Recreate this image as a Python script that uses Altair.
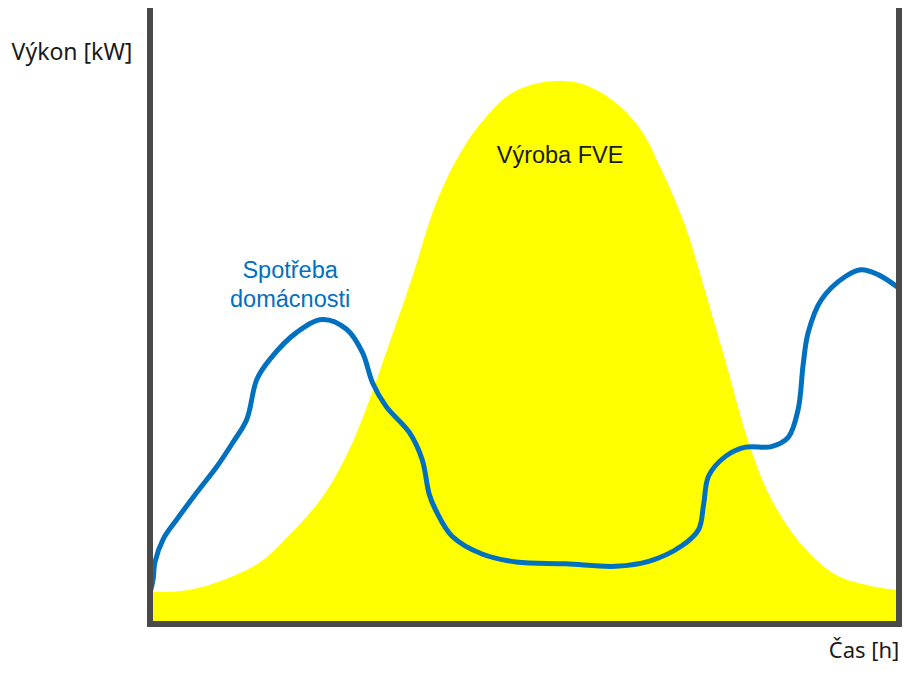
import altair as alt
import pandas as pd

# Production of PV plant (Výroba FVE): hour, kW
pv_t = [0, 1.06, 2.15, 3.53, 4.49, 5.54, 6.31, 6.73, 7.15, 7.60, 8.41, 9.17, 10.00,
        10.77, 11.60, 12.69, 13.74, 14.80, 15.66, 16.39, 17.16, 17.80, 18.44, 19.18, 19.91,
        21.00, 22.05, 23.11, 24.0]
pv_v = [0.52, 0.54, 0.68, 1.01, 1.46, 2.08, 2.76, 3.25, 3.82, 4.47, 5.66, 6.86, 7.72,
        8.26, 8.65, 8.83, 8.81, 8.54, 8.10, 7.40, 6.47, 5.40, 4.28, 2.96, 2.03,
        1.22, 0.78, 0.62, 0.55]

# Household consumption (Spotřeba domácnosti): hour, kW
hh_t = [0, 0.10, 0.16, 0.42, 0.87, 1.51, 2.15, 2.66, 3.10, 3.42, 3.84, 4.70, 5.53, 6.30,
        6.81, 7.13, 7.57, 8.31, 8.72, 8.95, 9.17, 9.68, 10.64, 11.73, 13.33, 14.92, 15.98,
        17.03, 17.58, 17.74, 17.90, 18.44, 19.08, 19.91, 20.45, 20.77, 20.93, 21.09, 21.51,
        22.28, 22.79, 23.33, 24.0]
hh_v = [0.50, 0.73, 1.01, 1.38, 1.71, 2.15, 2.57, 2.96, 3.33, 3.98, 4.31, 4.75, 4.96, 4.80,
        4.42, 3.93, 3.54, 3.12, 2.68, 2.11, 1.84, 1.43, 1.14, 1.01, 0.98, 0.94, 1.02,
        1.27, 1.54, 1.95, 2.41, 2.73, 2.88, 2.89, 3.04, 3.50, 4.23, 4.75, 5.28,
        5.66, 5.77, 5.69, 5.47]

X_MAX = 24
Y_MAX = 10

pv = pd.DataFrame({"t": pv_t, "v": pv_v})
hh = pd.DataFrame({"t": hh_t, "v": hh_v})

xs = alt.Scale(domain=[0, X_MAX], nice=False, zero=False)
ys = alt.Scale(domain=[0, Y_MAX], nice=False, zero=False)

area = alt.Chart(pv).mark_area(color="#FFFF00", interpolate="catmull-rom").encode(
    x=alt.X("t:Q", scale=xs, axis=None),
    y=alt.Y("v:Q", scale=ys, axis=None),
)

line = alt.Chart(hh).mark_line(color="#0070C0", strokeWidth=5, interpolate="catmull-rom").encode(
    x=alt.X("t:Q", scale=xs, axis=None),
    y=alt.Y("v:Q", scale=ys, axis=None),
)

# frame (axes lines)
frame = pd.DataFrame({
    "x": [0, 0, X_MAX],
    "x2": [0, X_MAX, X_MAX],
    "y": [0, 0, 0],
    "y2": [Y_MAX, 0, Y_MAX],
})
rules = alt.Chart(frame).mark_rule(color="#4a4a4a", strokeWidth=6, strokeCap="square").encode(
    x=alt.X("x:Q", scale=xs, axis=None),
    x2="x2:Q",
    y=alt.Y("y:Q", scale=ys, axis=None),
    y2="y2:Q",
)

ax_labels = pd.DataFrame({
    "t": [-2.50, 22.88],
    "v": [9.19, -0.55],
    "label": ["Výkon [kW]", "Čas [h]"],
    "size": [23, 22],
})
axis_text = alt.Chart(ax_labels).mark_text(
    font="Noto Sans", color="#1a1a1a", align="center", baseline="alphabetic"
).encode(
    x=alt.X("t:Q", scale=xs, axis=None),
    y=alt.Y("v:Q", scale=ys, axis=None),
    text="label:N",
    size=alt.Size("size:Q", scale=None, legend=None),
)

pv_label = pd.DataFrame({"t": [13.14], "v": [7.51], "label": ["Výroba FVE"]})
pv_text = alt.Chart(pv_label).mark_text(
    font="Liberation Sans", fontSize=23.5, color="#1a1a1a", align="center", baseline="alphabetic"
).encode(
    x=alt.X("t:Q", scale=xs, axis=None),
    y=alt.Y("v:Q", scale=ys, axis=None),
    text="label:N",
)

hh_label = pd.DataFrame({"t": [4.49, 4.49], "v": [5.64, 5.16], "label": ["Spotřeba", "domácnosti"]})
hh_text = alt.Chart(hh_label).mark_text(
    font="Liberation Sans", fontSize=23.5, color="#0070C0", align="center", baseline="alphabetic"
).encode(
    x=alt.X("t:Q", scale=xs, axis=None),
    y=alt.Y("v:Q", scale=ys, axis=None),
    text="label:N",
)

chart = alt.layer(area, line, rules, axis_text, pv_text, hh_text).properties(
    width=749,
    height=614,
    autosize=alt.AutoSizeParams(type="none"),
    padding={"left": 142, "top": 2, "right": 3, "bottom": 39},
    background="white",
).configure_view(stroke=None)

chart.save("out.html", embed_options={"renderer": "svg", "actions": False})
